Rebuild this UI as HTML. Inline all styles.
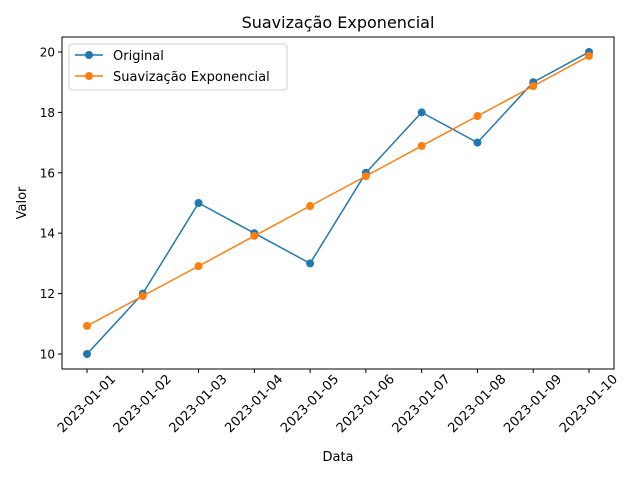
<!DOCTYPE html>
<html><head><meta charset="utf-8"><style>
body{margin:0;background:#fff;}
svg{font-family:"DejaVu Sans","Liberation Sans",sans-serif;}
</style></head><body>
<svg id="chart" width="640" height="480" viewBox="0 0 640 480" xmlns="http://www.w3.org/2000/svg">
<rect width="640" height="480" fill="#fff"/>
<text x="338" y="28" font-size="16" text-anchor="middle">Suavização Exponencial</text>
<rect x="62" y="37" width="552" height="332" fill="none" stroke="#000" stroke-width="1"/>
<g id="axes"></g>
<g id="series"></g>
<text x="338" y="461" font-size="13" text-anchor="middle">Data</text>
<text transform="translate(26,203) rotate(-90)" font-size="13" text-anchor="middle">Valor</text>
<g>
<rect x="69" y="44" width="218" height="46" rx="3" fill="#fff" stroke="#ccc" stroke-opacity="0.9"/>
<line x1="75" y1="55" x2="103" y2="55" stroke="#1f77b4" stroke-width="1.5"/><circle cx="89" cy="55" r="4" fill="#1f77b4"/>
<text x="113" y="60" font-size="13">Original</text>
<line x1="75" y1="76" x2="103" y2="76" stroke="#ff7f0e" stroke-width="1.5"/><circle cx="89" cy="76" r="4" fill="#ff7f0e"/>
<text x="113" y="81" font-size="13">Suavização Exponencial</text>
</g>
</svg>
<script>
const categories=["2023-01-01","2023-01-02","2023-01-03","2023-01-04","2023-01-05","2023-01-06","2023-01-07","2023-01-08","2023-01-09","2023-01-10"];
const originalValues=[10,12,15,14,13,16,18,17,19,20];
const smoothedValues=[10.93,11.92,12.91,13.91,14.9,15.89,16.89,17.88,18.87,19.87];
const yTicks=[10,12,14,16,18,20];
const NS="http://www.w3.org/2000/svg";
function xs(i){return 87+i*(589-87)/(categories.length-1);}
function ys(v){return 354-(v-10)*(354-52)/10;}
function mk(t,a,p){const e=document.createElementNS(NS,t);for(const k in a)e.setAttribute(k,a[k]);p.appendChild(e);return e;}
const axes=document.getElementById('axes'),series=document.getElementById('series');
yTicks.forEach(v=>{
 const g=mk('g',{},axes);
 
 
 mk('line',{x1:58,x2:62,y1:ys(v),y2:ys(v),stroke:'#000'},g);
 const t=mk('text',{x:55,y:ys(v)+4.5,'font-size':12,'text-anchor':'end'},g);t.textContent=v;
});
categories.forEach((c,i)=>{
 const g=mk('g',{},axes);
 
 
 mk('line',{x1:xs(i),x2:xs(i),y1:369,y2:373,stroke:'#000'},g);
 const t=mk('text',{transform:`translate(${xs(i)},${404}) rotate(-45)`,'font-size':13,'text-anchor':'middle','dominant-baseline':'central'},g);t.textContent=c;
});
function drawSeries(vals,color,name){
 const g=mk('g',{},series);
 
 
 mk('polyline',{points:vals.map((v,i)=>xs(i)+','+ys(v)).join(' '),fill:'none',stroke:color,'stroke-width':1.5},g);
 vals.forEach((v,i)=>{const c=mk('circle',{cx:xs(i),cy:ys(v),r:4,fill:color},g);
  
  });
}
drawSeries(originalValues,'#1f77b4','original-series');
drawSeries(smoothedValues,'#ff7f0e','smoothed-series');
</script>
</body></html>
